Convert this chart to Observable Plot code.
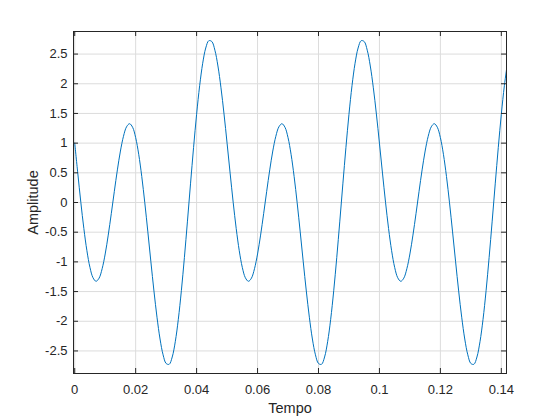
<!DOCTYPE html>
<html>
<head>
<meta charset="utf-8">
<script src="https://cdn.jsdelivr.net/npm/d3@7"></script>
<script src="https://cdn.jsdelivr.net/npm/@observablehq/plot@0.6"></script>
<style>
  html, body { margin: 0; padding: 0; background: #fff; }
  #chart svg { display: block; }
</style>
</head>
<body>
<div id="chart"></div>
<script>
// Time samples (s), step 0.001 from 0 to 0.142
const tempo = d3.range(143).map(i => +(i * 0.001).toFixed(3));

// Amplitude values
const amplitude = [
  1.000, 0.495, 0.005, -0.439, -0.812, -1.093, -1.267, -1.327, -1.274, -1.115,
  -0.867, -0.549, -0.188, 0.188, 0.549, 0.867, 1.115, 1.274, 1.327, 1.267,
  1.093, 0.812, 0.439, -0.005, -0.495, -1.000, -1.490, -1.932, -2.299, -2.565,
  -2.711, -2.725, -2.602, -2.345, -1.967, -1.485, -0.924, -0.314, 0.314, 0.924,
  1.485, 1.967, 2.345, 2.602, 2.725, 2.711, 2.565, 2.299, 1.932, 1.490,
  1.000, 0.495, 0.005, -0.439, -0.812, -1.093, -1.267, -1.327, -1.274, -1.115,
  -0.867, -0.549, -0.188, 0.188, 0.549, 0.867, 1.115, 1.274, 1.327, 1.267,
  1.093, 0.812, 0.439, -0.005, -0.495, -1.000, -1.490, -1.932, -2.299, -2.565,
  -2.711, -2.725, -2.602, -2.345, -1.967, -1.485, -0.924, -0.314, 0.314, 0.924,
  1.485, 1.967, 2.345, 2.602, 2.725, 2.711, 2.565, 2.299, 1.932, 1.490,
  1.000, 0.495, 0.005, -0.439, -0.812, -1.093, -1.267, -1.327, -1.274, -1.115,
  -0.867, -0.549, -0.188, 0.188, 0.549, 0.867, 1.115, 1.274, 1.327, 1.267,
  1.093, 0.812, 0.439, -0.005, -0.495, -1.000, -1.490, -1.932, -2.299, -2.565,
  -2.711, -2.725, -2.602, -2.345, -1.967, -1.485, -0.924, -0.314, 0.314, 0.924,
  1.485, 1.967, 2.345
];

const xTicks = [0, 0.02, 0.04, 0.06, 0.08, 0.1, 0.12, 0.14];
const yTicks = [-2.5, -2, -1.5, -1, -0.5, 0, 0.5, 1, 1.5, 2, 2.5];
const xDomain = [-0.0004, 0.1417];
const yDomain = [-2.88, 2.88];
const xLabel = "Tempo";
const yLabel = "Amplitude";

const data = tempo.map((t, i) => ({t, a: amplitude[i]}));

const W = 560, H = 420;
const mL = 73, mR = 54, mT = 31, mB = 47;
const innerW = W - mL - mR, innerH = H - mT - mB;
const tk = 5;
const axisColor = "#262626";
const fontFamily = "'Liberation Sans', Arial, Helvetica, sans-serif";

const chart = Plot.plot({
  width: W,
  height: H,
  marginLeft: mL,
  marginRight: mR,
  marginTop: mT,
  marginBottom: mB,
  style: {background: "#fff", fontFamily, color: axisColor},
  x: {domain: xDomain},
  y: {domain: yDomain},
  marks: [
    Plot.gridX(xTicks, {stroke: "#dcdcdc", strokeOpacity: 1}),
    Plot.gridY(yTicks, {stroke: "#dcdcdc", strokeOpacity: 1}),
    Plot.line(data, {x: "t", y: "a", stroke: "#0072BD", strokeWidth: 1, curve: "catmull-rom", clip: true}),
    // inward tick marks on all four sides
    Plot.tickX(xTicks, {x: d => d, insetTop: innerH - tk, stroke: axisColor}),
    Plot.tickX(xTicks, {x: d => d, insetBottom: innerH - tk, stroke: axisColor}),
    Plot.tickY(yTicks, {y: d => d, insetRight: innerW - tk, stroke: axisColor}),
    Plot.tickY(yTicks, {y: d => d, insetLeft: innerW - tk, stroke: axisColor}),
    Plot.axisX(xTicks, {tickSize: 0, tickPadding: 11, fontSize: 13, fill: axisColor, tickFormat: d => String(d), label: null}),
    Plot.axisY(yTicks, {tickSize: 0, tickPadding: 6, fontSize: 13, fill: axisColor, tickFormat: d => String(d), label: null}),
    Plot.frame({stroke: axisColor, strokeWidth: 1}),
    Plot.text([xLabel], {frameAnchor: "bottom", lineAnchor: "middle", textAnchor: "middle", dy: 35, fontSize: 14.5, fill: axisColor, text: d => d}),
    Plot.text([yLabel], {frameAnchor: "left", lineAnchor: "middle", textAnchor: "middle", dx: -40, rotate: -90, fontSize: 14.5, fill: axisColor, text: d => d})
  ]
});

document.getElementById("chart").appendChild(chart);
</script>
</body>
</html>
